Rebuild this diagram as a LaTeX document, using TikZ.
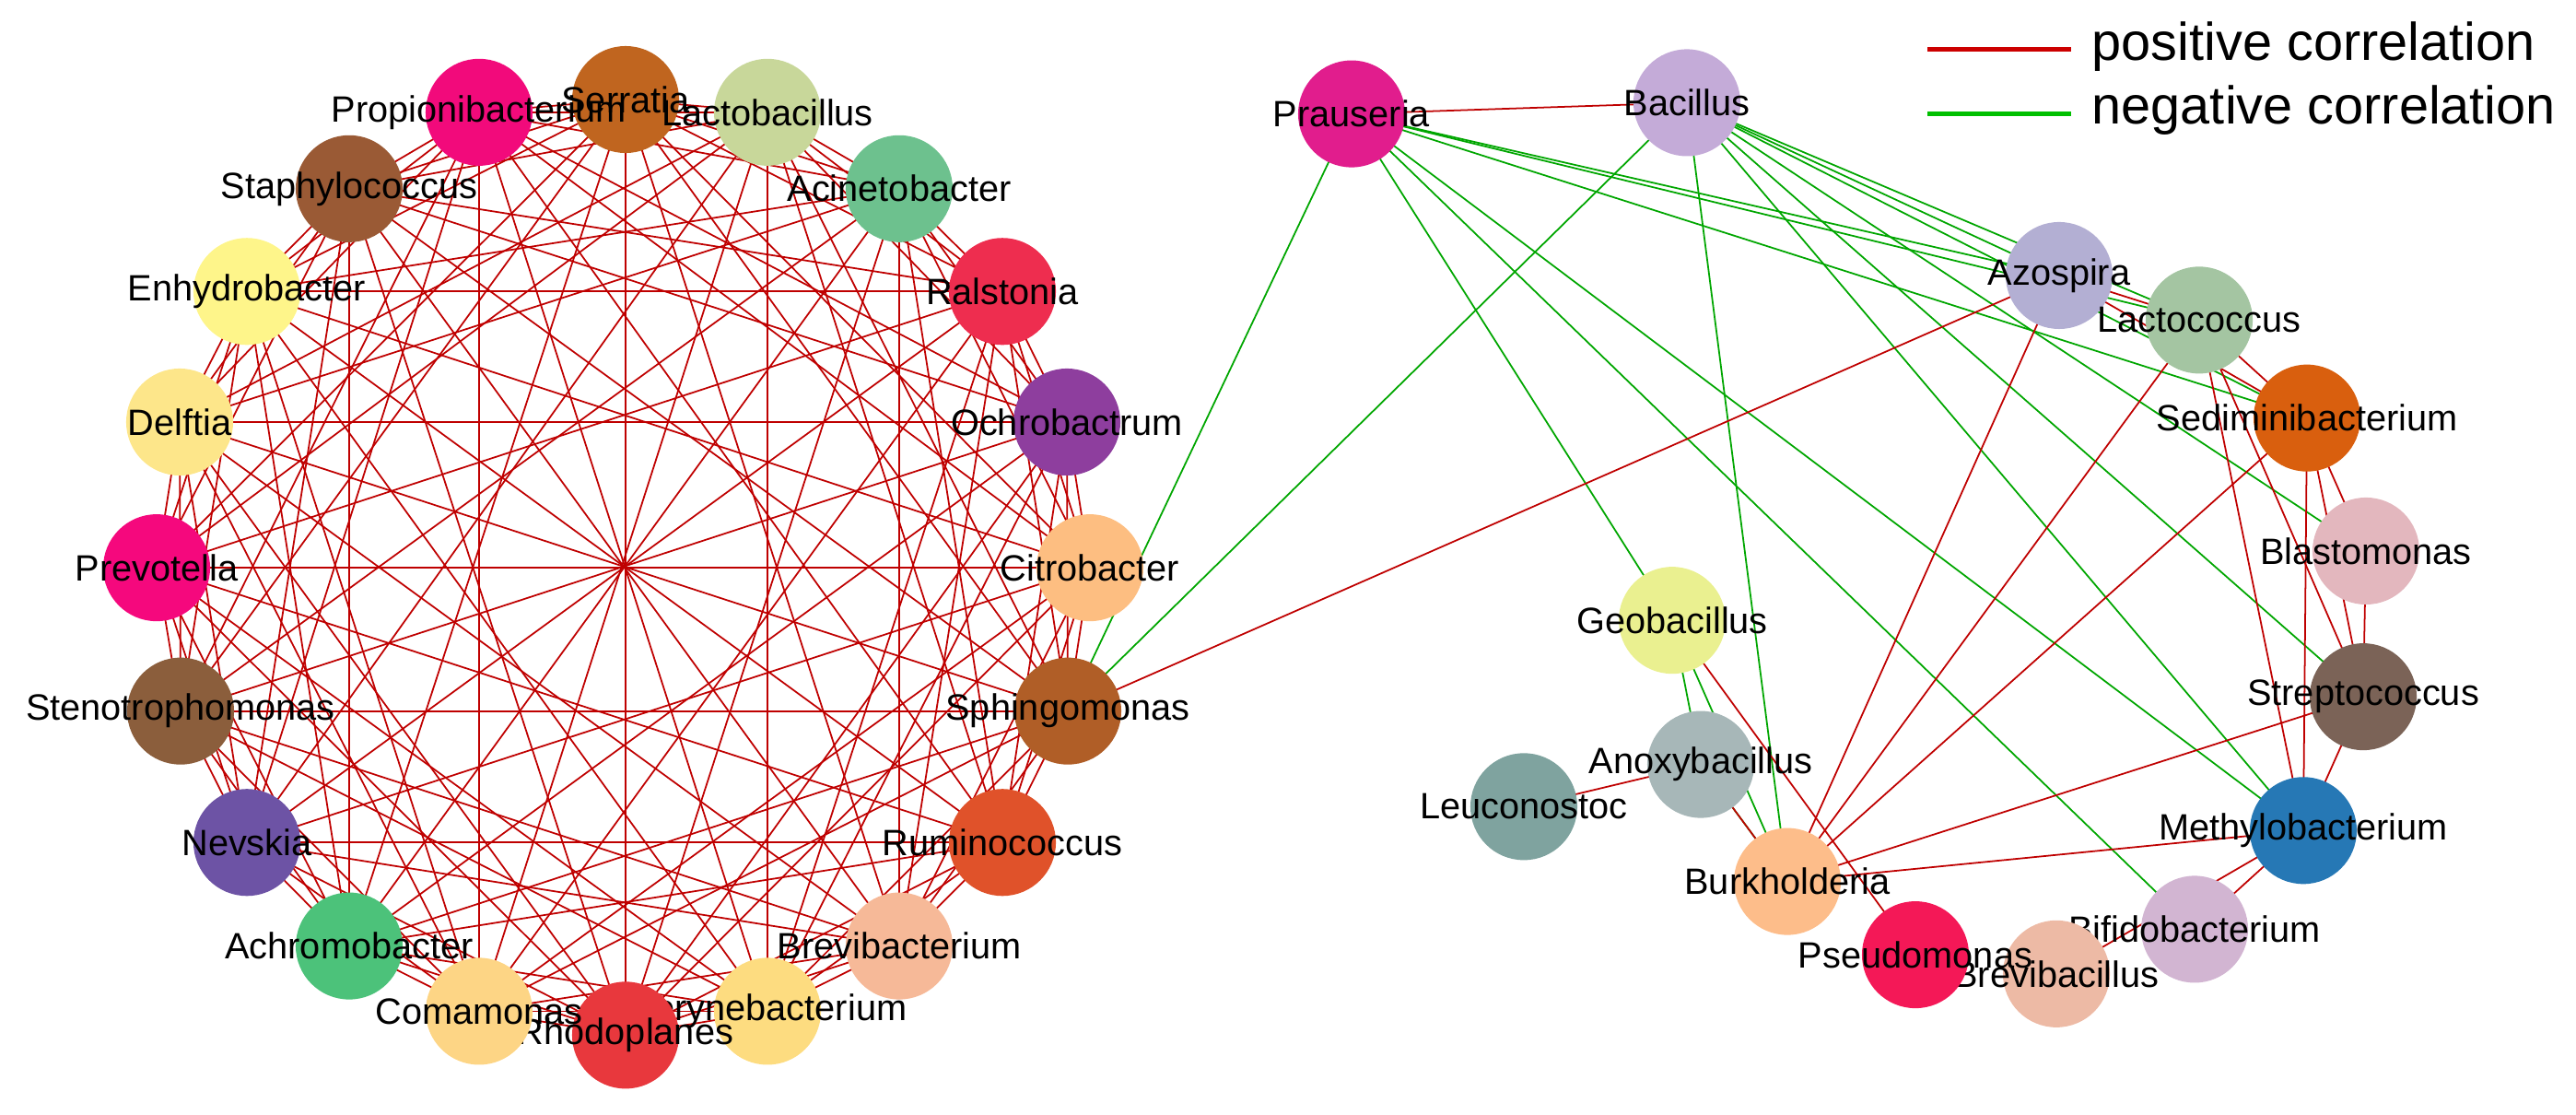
\documentclass[tikz,border=0pt]{standalone}
\usepackage{fontspec}
\setmainfont{Liberation Sans}
\usetikzlibrary{backgrounds}
\begin{document}
\begin{tikzpicture}[x=0.01cm,y=-0.008636cm,
  bug/.style={circle,minimum size=1.16cm,inner sep=0pt,draw=none,fill=#1},
  lab/.style={font=\fontsize{11.3}{13}\selectfont},
  posedge/.style={draw=red!75!black,line width=0.5pt},
  negedge/.style={draw=green!65!black,line width=0.5pt}]
\useasboundingbox (0,0) rectangle (2796,1400);
\foreach \n/\x/\y/\c/\t in {
 0/679/125/C0651F/Serratia, 1/833/141/C8D79A/Lactobacillus, 2/976/237/6DC18E/Acinetobacter,
 3/1088/366/EE2D4F/Ralstonia, 4/1158/530/8E3E9E/Ochrobactrum, 5/1183/713/FDBE81/Citrobacter,
 6/1159/893/B05E27/Sphingomonas, 7/1088/1058/E0522A/Ruminococcus, 8/976/1188/F6B998/Brevibacterium,
 9/833/1270/FDDC80/Corynebacterium, 10/679/1300/E8383D/Rhodoplanes, 11/520/1270/FDD585/Comamonas,
 12/379/1188/4CC27A/Achromobacter, 13/268/1058/6D53A5/Nevskia, 14/196/893/8B5E3C/Stenotrophomonas,
 15/170/713/F5087D/Prevotella, 16/195/530/FDE68A/Delftia, 17/268/366/FEF58A/Enhydrobacter,
 18/379/237/9A5A35/Staphylococcus, 19/520/141/F20A7B/Propionibacterium}{
 \definecolor{c\n}{HTML}{\c}
 \node[bug=c\n,label={[lab,name=T\n]center:\t}] (L\n) at (\x,\y) {};
}
\foreach \n/\x/\y/\c/\t in {
 Pra/1467/143/E11D8D/Prauseria, Bac/1831/129/C4ABD8/Bacillus, Azo/2235/346/B3AFD3/Azospira,
 Lac/2387/402/A4C5A2/Lactococcus, Sed/2504/525/D95F0E/Sediminibacterium, Bla/2568/692/E3B7BE/Blastomonas,
 Str/2565/875/7B6357/Streptococcus, Met/2500/1043/2678B5/Methylobacterium, Bif/2382/1167/D2B5D2/Bifidobacterium,
 Bre/2232/1223/EDBAA5/Brevibacillus, Pse/2079/1199/F41857/Pseudomonas, Bur/1940/1107/FDBD8A/Burkholderia,
 Ano/1846/960/A7B7B8/Anoxybacillus, Leu/1654/1013/7FA39F/Leuconostoc, Geo/1815/779/EAF090/Geobacillus}{
 \definecolor{c\n}{HTML}{\c}
 \node[bug=c\n,label={[lab,name=T\n]center:\t}] (\n) at (\x,\y) {};
}
\begin{pgfonlayer}{background}
\foreach \i in {0,...,19}{
  \foreach \d in {1,2,3,5,6,8}{
    \pgfmathtruncatemacro\j{mod(\i+\d,20)}
    \draw[posedge] (L\i.center) -- (L\j.center);
  }
}
\foreach \i in {0,...,9}{
  \pgfmathtruncatemacro\j{\i+10}
  \draw[posedge] (L\i.center) -- (L\j.center);
}
\foreach \a/\b in {L6/Pra, L6/Bac, Pra/Azo, Pra/Lac, Pra/Sed, Pra/Geo, Pra/Met, Pra/Bif,
  Bac/Azo, Bac/Lac, Bac/Sed, Bac/Bla, Bac/Str, Bac/Met, Bac/Bur, Geo/Ano, Geo/Bur, Ano/Bur}
  \draw[negedge] (\a.center) -- (\b.center);
\foreach \a/\b in {L6/Azo, Pra/Bac, Geo/Pse, Ano/Leu, Bur/Azo, Bur/Lac, Bur/Sed, Bur/Str, Bur/Met,
  Lac/Sed, Lac/Met, Lac/Str, Azo/Lac, Azo/Sed, Sed/Met, Sed/Str, Sed/Bla, Bla/Str, Str/Met,
  Met/Bif, Met/Bre, Bur/Ano}
  \draw[posedge] (\a.center) -- (\b.center);
\end{pgfonlayer}
\coordinate (r1) at (2092,62); \coordinate (r2) at (2248,62);
\coordinate (g1) at (2092,143); \coordinate (g2) at (2248,143);
\draw[red!80!black,line width=1.6pt] (r1) -- (r2);
\draw[green!75!black,line width=1.6pt] (g1) -- (g2);
\node[anchor=west,font=\fontsize{16.4}{19}\selectfont,inner sep=0pt] (lp) at (2270,58) {positive correlation};
\node[anchor=west,font=\fontsize{16.4}{19}\selectfont,inner sep=0pt] (ln) at (2270,138) {negative correlation};
\end{tikzpicture}
\end{document}
